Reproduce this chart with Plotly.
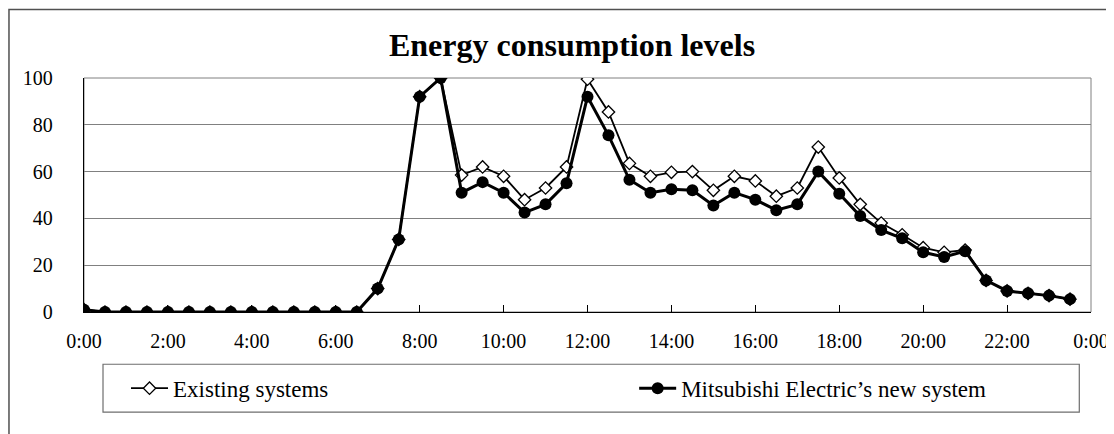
import plotly.graph_objects as go

times = ["0:00", "0:30", "1:00", "1:30", "2:00", "2:30", "3:00", "3:30",
         "4:00", "4:30", "5:00", "5:30", "6:00", "6:30", "7:00", "7:30",
         "8:00", "8:30", "9:00", "9:30", "10:00", "10:30", "11:00", "11:30",
         "12:00", "12:30", "13:00", "13:30", "14:00", "14:30", "15:00", "15:30",
         "16:00", "16:30", "17:00", "17:30", "18:00", "18:30", "19:00", "19:30",
         "20:00", "20:30", "21:00", "21:30", "22:00", "22:30", "23:00", "23:30"]

existing = [1, 0, 0, 0, 0, 0, 0, 0, 0, 0, 0, 0, 0, 0, 10, 31,
            92, 100, 58.5, 62, 58, 48, 53, 62,
            99.5, 85.5, 63.5, 58, 59.7, 60, 52, 58,
            56, 49.5, 53, 70.5, 57.3, 46, 38, 33,
            27.5, 25.5, 26.5, 13.5, 9, 8, 7, 5.5]

new_system = [1, 0, 0, 0, 0, 0, 0, 0, 0, 0, 0, 0, 0, 0, 10, 31,
              92, 100, 51, 55.5, 51, 42.5, 46, 55,
              92, 75.5, 56.5, 51, 52.5, 52, 45.5, 51,
              48, 43.5, 46, 60, 50.5, 41, 35, 31.5,
              25.5, 23.5, 26, 13.5, 9, 8, 7, 5.5]

tick_hours = [0, 2, 4, 6, 8, 10, 12, 14, 16, 18, 20, 22, 24]
tick_labels = ["0:00", "2:00", "4:00", "6:00", "8:00", "10:00", "12:00",
               "14:00", "16:00", "18:00", "20:00", "22:00", "0:00"]


def to_hours(t):
    h, m = t.split(":")
    return int(h) + int(m) / 60.0


x = [to_hours(t) for t in times]
FONT = "Liberation Serif, Times New Roman, serif"

fig = go.Figure()
fig.add_trace(go.Scatter(
    x=x, y=existing, mode="lines+markers", name="Existing systems",
    line=dict(color="black", width=1.8),
    marker=dict(symbol="diamond", size=9.5, color="white",
                line=dict(color="black", width=1.3)),
    legend="legend",
))
fig.add_trace(go.Scatter(
    x=x, y=new_system, mode="lines+markers", name="Mitsubishi Electric\u2019s new system",
    line=dict(color="black", width=3),
    marker=dict(symbol="circle", size=12, color="black"),
    legend="legend2",
))

# page body adds an 8px offset; work in reference-pixel coordinates
OFF = 8
WIN_W, WIN_H = 1114, 434
W, H = WIN_W - OFF, WIN_H - OFF
L, R, T, B = 84, 1090.7, 77.5, 311.7
pw, ph = R - L, B - T


def px_x(p):
    return (p - L) / pw


def px_y(p):
    return (B - p) / ph


shapes = [
    dict(type="rect", xref="paper", yref="paper", x0=0, x1=1, y0=0, y1=1,
         line=dict(color="#808080", width=1), layer="below"),
    dict(type="rect", xref="paper", yref="paper",
         x0=px_x(103), x1=px_x(1079), y0=px_y(412), y1=px_y(364),
         line=dict(color="#6e6e6e", width=1.2)),
    dict(type="rect", xref="paper", yref="paper",
         x0=px_x(OFF + 1), x1=px_x(1120), y0=px_y(445), y1=px_y(OFF + 1),
         line=dict(color="#505050", width=1.5)),
]

leg_common = dict(orientation="h", xanchor="left", yanchor="middle",
                  y=px_y(388), bgcolor="rgba(0,0,0,0)", borderwidth=0,
                  font=dict(family=FONT, size=23, color="black"),
                  itemsizing="trace", itemwidth=37)

fig.update_layout(
    width=W, height=H,
    margin=dict(l=L - OFF, r=WIN_W - R, t=T - OFF, b=WIN_H - B, pad=0, autoexpand=False),
    paper_bgcolor="white", plot_bgcolor="white",
    font=dict(family=FONT, color="black", size=20),
    title=dict(text="<b>Energy consumption levels</b>", x=(572 - OFF) / W, xanchor="center",
               y=1 - (45 - OFF) / H, yanchor="middle",
               font=dict(family=FONT, size=32, color="black")),
    showlegend=True,
    legend=dict(x=px_x(126), **leg_common),
    legend2=dict(x=px_x(634), **leg_common),
    shapes=shapes,
)

fig.update_xaxes(
    range=[0, 24], tickvals=tick_hours, ticktext=tick_labels,
    showgrid=False, zeroline=False, automargin=False,
    showline=True, linecolor="black", linewidth=1.3,
    ticks="inside", ticklen=7, tickcolor="black", tickwidth=1,
    ticklabelstandoff=11,
    tickfont=dict(family=FONT, size=20, color="black"),
)
fig.update_yaxes(
    range=[0, 100], tickvals=[0, 20, 40, 60, 80, 100],
    showgrid=True, gridcolor="#808080", gridwidth=1, zeroline=False, automargin=False,
    showline=True, linecolor="black", linewidth=1.3,
    ticks="", ticklabelstandoff=26,
    tickfont=dict(family=FONT, size=20, color="black"),
)

fig.write_html("out.html")
